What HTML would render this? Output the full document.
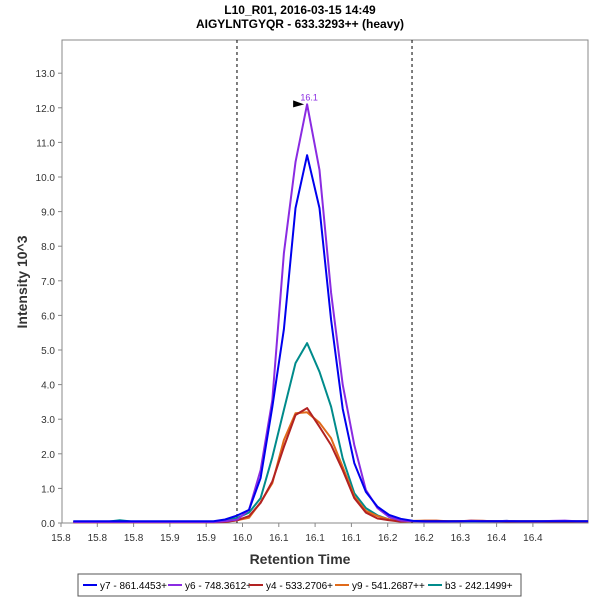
<!DOCTYPE html>
<html><head><meta charset="utf-8"><style>
body{margin:0;background:#fff;width:600px;height:600px;overflow:hidden;font-family:"Liberation Sans",sans-serif}
svg text{font-family:"Liberation Sans",sans-serif}
</style></head><body>
<svg id="chart" width="600" height="600">
<text x="300" y="14" text-anchor="middle" font-size="12" font-weight="bold" fill="#000">L10_R01, 2016-03-15 14:49</text>
<text x="300" y="28" text-anchor="middle" font-size="12" font-weight="bold" fill="#000">AIGYLNTGYQR - 633.3293++ (heavy)</text>
<rect x="62" y="40" width="526" height="483" fill="#fff" stroke="#888"/>
<g id="axes"></g>
<g id="series"></g>
<text x="300" y="564" text-anchor="middle" font-size="14" font-weight="bold" fill="#333">Retention Time</text>
<text transform="translate(27,282) rotate(-90)" text-anchor="middle" font-size="14" font-weight="bold" fill="#333">Intensity 10^3</text>
<g id="legend"><rect x="78" y="574" width="443" height="22" fill="#fff" stroke="#555"/></g>
</svg>
<script>
const times=[15.767,15.783,15.799,15.815,15.831,15.848,15.864,15.880,15.896,15.912,15.928,15.944,15.960,15.976,15.993,16.009,16.025,16.041,16.057,16.073,16.089,16.106,16.122,16.138,16.154,16.170,16.186,16.202,16.218,16.235,16.251,16.267,16.283,16.299,16.315,16.331,16.347,16.364,16.380,16.396,16.412,16.428,16.444,16.460,16.476];
const y7=[0.05,0.05,0.05,0.05,0.05,0.05,0.05,0.05,0.05,0.05,0.05,0.05,0.05,0.1,0.22,0.38,1.3,3.35,5.6,9.1,10.63,9.1,5.87,3.3,1.73,0.9,0.47,0.23,0.12,0.06,0.05,0.05,0.05,0.05,0.05,0.05,0.05,0.05,0.05,0.05,0.05,0.05,0.05,0.05,0.05];
const y6=[0.03,0.03,0.03,0.03,0.03,0.03,0.03,0.03,0.03,0.03,0.03,0.03,0.03,0.05,0.1,0.38,1.53,3.55,7.8,10.43,12.1,10.2,6.65,4.0,2.25,0.95,0.43,0.17,0.07,0.05,0.04,0.04,0.04,0.05,0.06,0.05,0.05,0.06,0.05,0.05,0.05,0.06,0.07,0.05,0.05];
const y4=[0.02,0.02,0.02,0.02,0.02,0.02,0.02,0.02,0.02,0.02,0.02,0.02,0.02,0.03,0.08,0.2,0.58,1.2,2.2,3.12,3.32,2.78,2.25,1.53,0.72,0.3,0.13,0.08,0.04,0.05,0.06,0.06,0.05,0.05,0.07,0.06,0.05,0.04,0.04,0.04,0.04,0.04,0.04,0.04,0.04];
const y9=[0.03,0.03,0.03,0.03,0.03,0.03,0.03,0.03,0.03,0.03,0.03,0.03,0.03,0.04,0.08,0.15,0.6,1.15,2.4,3.17,3.2,2.9,2.45,1.62,0.77,0.35,0.2,0.1,0.06,0.06,0.07,0.07,0.05,0.05,0.06,0.06,0.05,0.05,0.05,0.05,0.05,0.05,0.05,0.05,0.05];
const b3=[0.04,0.04,0.04,0.04,0.08,0.04,0.04,0.04,0.04,0.04,0.04,0.04,0.04,0.08,0.15,0.3,0.72,1.9,3.27,4.62,5.2,4.37,3.36,1.87,0.86,0.43,0.22,0.1,0.06,0.05,0.05,0.05,0.05,0.05,0.05,0.05,0.05,0.06,0.05,0.05,0.05,0.05,0.05,0.05,0.05];
const xTickVals=[15.75,15.80,15.85,15.90,15.95,16.00,16.05,16.10,16.15,16.20,16.25,16.30,16.35,16.40];
const xTickLabels=["15.8","15.8","15.8","15.9","15.9","16.0","16.1","16.1","16.1","16.2","16.2","16.3","16.4","16.4"];
const yTicks=[0,1,2,3,4,5,6,7,8,9,10,11,12,13];
const boundaries=[15.9924,16.2335];
const peakTime=16.089, peakValue=12.1, peakLabel="16.1";
const seriesNames=["y7 - 861.4453+","y6 - 748.3612+","y4 - 533.2706+","y9 - 541.2687++","b3 - 242.1499+"];
const seriesColors=["#0000ee","#8a2be2","#b22222","#e06a1a","#008b8b"];
const seriesData=[y7,y6,y4,y9,b3];
const NS="http://www.w3.org/2000/svg";
const X=t=>61+(t-15.75)/0.05*36.3;
const Y=v=>523-v*34.6;
function mk(tag,attrs,parent){const e=document.createElementNS(NS,tag);for(const k in attrs)e.setAttribute(k,attrs[k]);parent.appendChild(e);return e;}
const axes=document.getElementById('axes');
yTicks.forEach(v=>{
 const l=mk('line',{x1:58,x2:62,y1:Y(v),y2:Y(v),stroke:'#888'},axes);
 
 
 const t=mk('text',{x:55,y:Y(v)+4,'text-anchor':'end','font-size':10,fill:'#333'},axes);
 t.textContent=v.toFixed(1);
 
 
});
xTickVals.forEach((v,i)=>{
 const l=mk('line',{x1:X(v),x2:X(v),y1:523,y2:527,stroke:'#888'},axes);
 
 
 const t=mk('text',{x:X(v),y:541,'text-anchor':'middle','font-size':10,fill:'#333'},axes);
 t.textContent=xTickLabels[i];
 
 
});
boundaries.forEach(b=>{
 const l=mk('line',{x1:X(b),x2:X(b),y1:40,y2:523,stroke:'#000','stroke-dasharray':'3,3','stroke-width':1},axes);
 
 
});
const sg=document.getElementById('series');
[4,3,2,1,0].forEach(i=>{
 const d=seriesData[i].map((v,k)=>(k?'L':'M')+X(times[k]).toFixed(1)+','+Y(v).toFixed(1)).join('');
 const p=mk('path',{d:d,fill:'none',stroke:seriesColors[i],'stroke-width':2,'stroke-linejoin':'round'},sg);
 
 
});
const px=X(peakTime),py=Y(peakValue);
const tri=mk('polygon',{points:`${px-14},${py-4} ${px-3},${py} ${px-14},${py+3}`,fill:'#000'},sg);


const pl=mk('text',{x:px+2,y:py-4,'text-anchor':'middle','font-size':9,fill:'#8a2be2'},sg);
pl.textContent=peakLabel;


const lg=document.getElementById('legend');
const lx=[83,168,249,335,428];
seriesNames.forEach((n,i)=>{
 const g=mk('g',{},lg);
 
 
 mk('line',{x1:lx[i],x2:lx[i]+14,y1:585,y2:585,stroke:seriesColors[i],'stroke-width':2},g);
 const t=mk('text',{x:lx[i]+17,y:589,'font-size':10,fill:'#000'},g);
 t.textContent=n;
});
</script>
</body></html>
